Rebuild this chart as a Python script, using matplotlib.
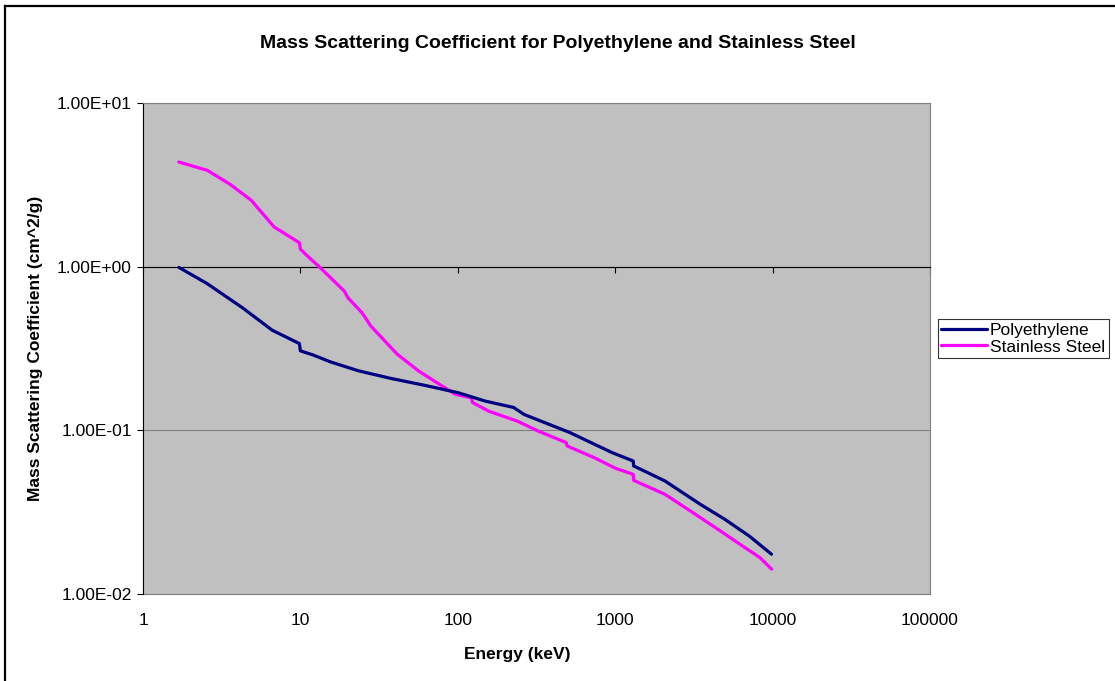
"""Mass scattering coefficient chart — polyethylene vs stainless steel (log-log)."""
import matplotlib
matplotlib.use("Agg")
import matplotlib.pyplot as plt
from matplotlib.lines import Line2D
from matplotlib.ticker import FixedLocator, FuncFormatter, NullLocator

plt.rcParams["font.family"] = ["Liberation Sans", "DejaVu Sans"]

# energy (keV) and mass scattering coefficient (cm^2/g)
energy_pe = [1.69, 2.56, 4.27, 6.62, 9.85, 10.0, 12.0, 15.5, 23.4, 37.2, 62.2, 84.8,
             100, 128, 149, 226, 264, 514, 955, 1300, 1310, 2067, 3460, 4970, 7110, 9840]
mu_pe = [0.99, 0.787, 0.562, 0.409, 0.339, 0.306, 0.289, 0.262, 0.231, 0.208, 0.188, 0.176,
         0.170, 0.158, 0.151, 0.138, 0.125, 0.097, 0.0731, 0.065, 0.0606, 0.0491, 0.0354,
         0.0286, 0.0226, 0.0175]

energy_ss = [1.69, 2.56, 3.57, 4.86, 6.8, 9.85, 10.0, 10.8, 13.3, 19.0, 20.0, 24.6, 28.0,
             41.2, 56.2, 76.5, 96.5, 122, 124, 157, 238, 324, 489, 495, 738, 1005, 1300,
             1310, 2067, 3120, 4480, 6420, 8300, 9840]
mu_ss = [4.36, 3.88, 3.19, 2.55, 1.75, 1.40, 1.28, 1.19, 0.99, 0.71, 0.647, 0.524, 0.434,
         0.292, 0.231, 0.191, 0.166, 0.158, 0.148, 0.131, 0.114, 0.099, 0.0841, 0.0803,
         0.068, 0.0586, 0.0539, 0.0495, 0.0407, 0.0314, 0.0249, 0.0197, 0.0167, 0.0142]

x_ticks = [1, 10, 100, 1000, 10000, 100000]
y_ticks = [0.01, 0.1, 1, 10]

W, H = 1115, 681
fig = plt.figure(figsize=(W / 100, H / 100), dpi=100)
fig.patch.set_facecolor("white")

# plot area in pixels: x 143..930, y 103..594
ax = fig.add_axes([143 / W, (H - 594) / H, 787 / W, 491 / H])
ax.set_facecolor("#C0C0C0")
ax.set_xscale("log")
ax.set_yscale("log")
ax.set_xlim(1, 100000)
ax.set_ylim(0.01, 10)

ax.plot(energy_pe, mu_pe, color="#000080", linewidth=2.3, label="Polyethylene",
        solid_joinstyle="round", solid_capstyle="round", zorder=4)
ax.plot(energy_ss, mu_ss, color="#FF00FF", linewidth=2.3, label="Stainless Steel",
        solid_joinstyle="round", solid_capstyle="round", zorder=3)

# gridlines (grey), plot-area border
ax.yaxis.set_major_locator(FixedLocator(y_ticks))
ax.yaxis.set_minor_locator(NullLocator())
ax.yaxis.grid(True, color="#808080", linewidth=0.8)
ax.set_axisbelow(True)
for side in ["top", "right"]:
    ax.spines[side].set_color("#808080")
    ax.spines[side].set_linewidth(0.8)
ax.spines["left"].set_color("black")
ax.spines["left"].set_linewidth(0.8)

# Excel-style: x axis crosses at y = 1, labels kept low
ax.spines["bottom"].set_position(("data", 1))
ax.spines["bottom"].set_color("black")
ax.spines["bottom"].set_linewidth(0.8)
ax.spines["bottom"].set_zorder(2.5)
ax.xaxis.set_major_locator(FixedLocator(x_ticks))
ax.xaxis.set_minor_locator(NullLocator())
ax.tick_params(axis="x", direction="out", length=4, width=0.8, labelbottom=False)
ax.tick_params(axis="y", direction="out", length=4, width=0.8, pad=4, labelsize=12.5)
ax.yaxis.set_major_formatter(FuncFormatter(lambda v, _: f"{v:.2E}"))

sec = ax.secondary_xaxis("bottom")
sec.xaxis.set_major_locator(FixedLocator(x_ticks))
sec.xaxis.set_minor_locator(NullLocator())
sec.xaxis.set_major_formatter(FuncFormatter(lambda v, _: f"{v:g}"))
sec.tick_params(axis="x", length=0, pad=14, labelsize=12.5)
sec.spines["bottom"].set_color("#808080")
sec.spines["bottom"].set_linewidth(0.8)

fig.text(558 / W, 1 - 43 / H, "Mass Scattering Coefficient for Polyethylene and Stainless Steel",
         ha="center", va="center", fontsize=14, fontweight="bold")
fig.text(517 / W, 1 - 654 / H, "Energy (keV)", ha="center", va="center",
         fontsize=12.5, fontweight="bold")
fig.text(36 / W, 1 - 348 / H, "Mass Scattering Coefficient (cm^2/g)", ha="center",
         va="center", rotation=90, fontsize=12.5, fontweight="bold")

leg = ax.legend(loc="upper left", bbox_to_anchor=(938 / W, 1 - 319 / H),
                bbox_transform=fig.transFigure, frameon=True, fancybox=False,
                fontsize=12.5, handlelength=2.6, handletextpad=0.2, borderpad=0.2,
                labelspacing=0.1, borderaxespad=0)
leg.get_frame().set_edgecolor("black")
leg.get_frame().set_linewidth(0.8)

# chart-area border (only top and left edges fall inside the picture)
fig.add_artist(Line2D([4.5 / W, 4.5 / W], [0, 1 - 5.5 / H], color="black", linewidth=1.6,
                      transform=fig.transFigure))
fig.add_artist(Line2D([4.5 / W, 1], [1 - 5.5 / H, 1 - 5.5 / H], color="black", linewidth=1.6,
                      transform=fig.transFigure))

fig.savefig("out.png", dpi=100)
